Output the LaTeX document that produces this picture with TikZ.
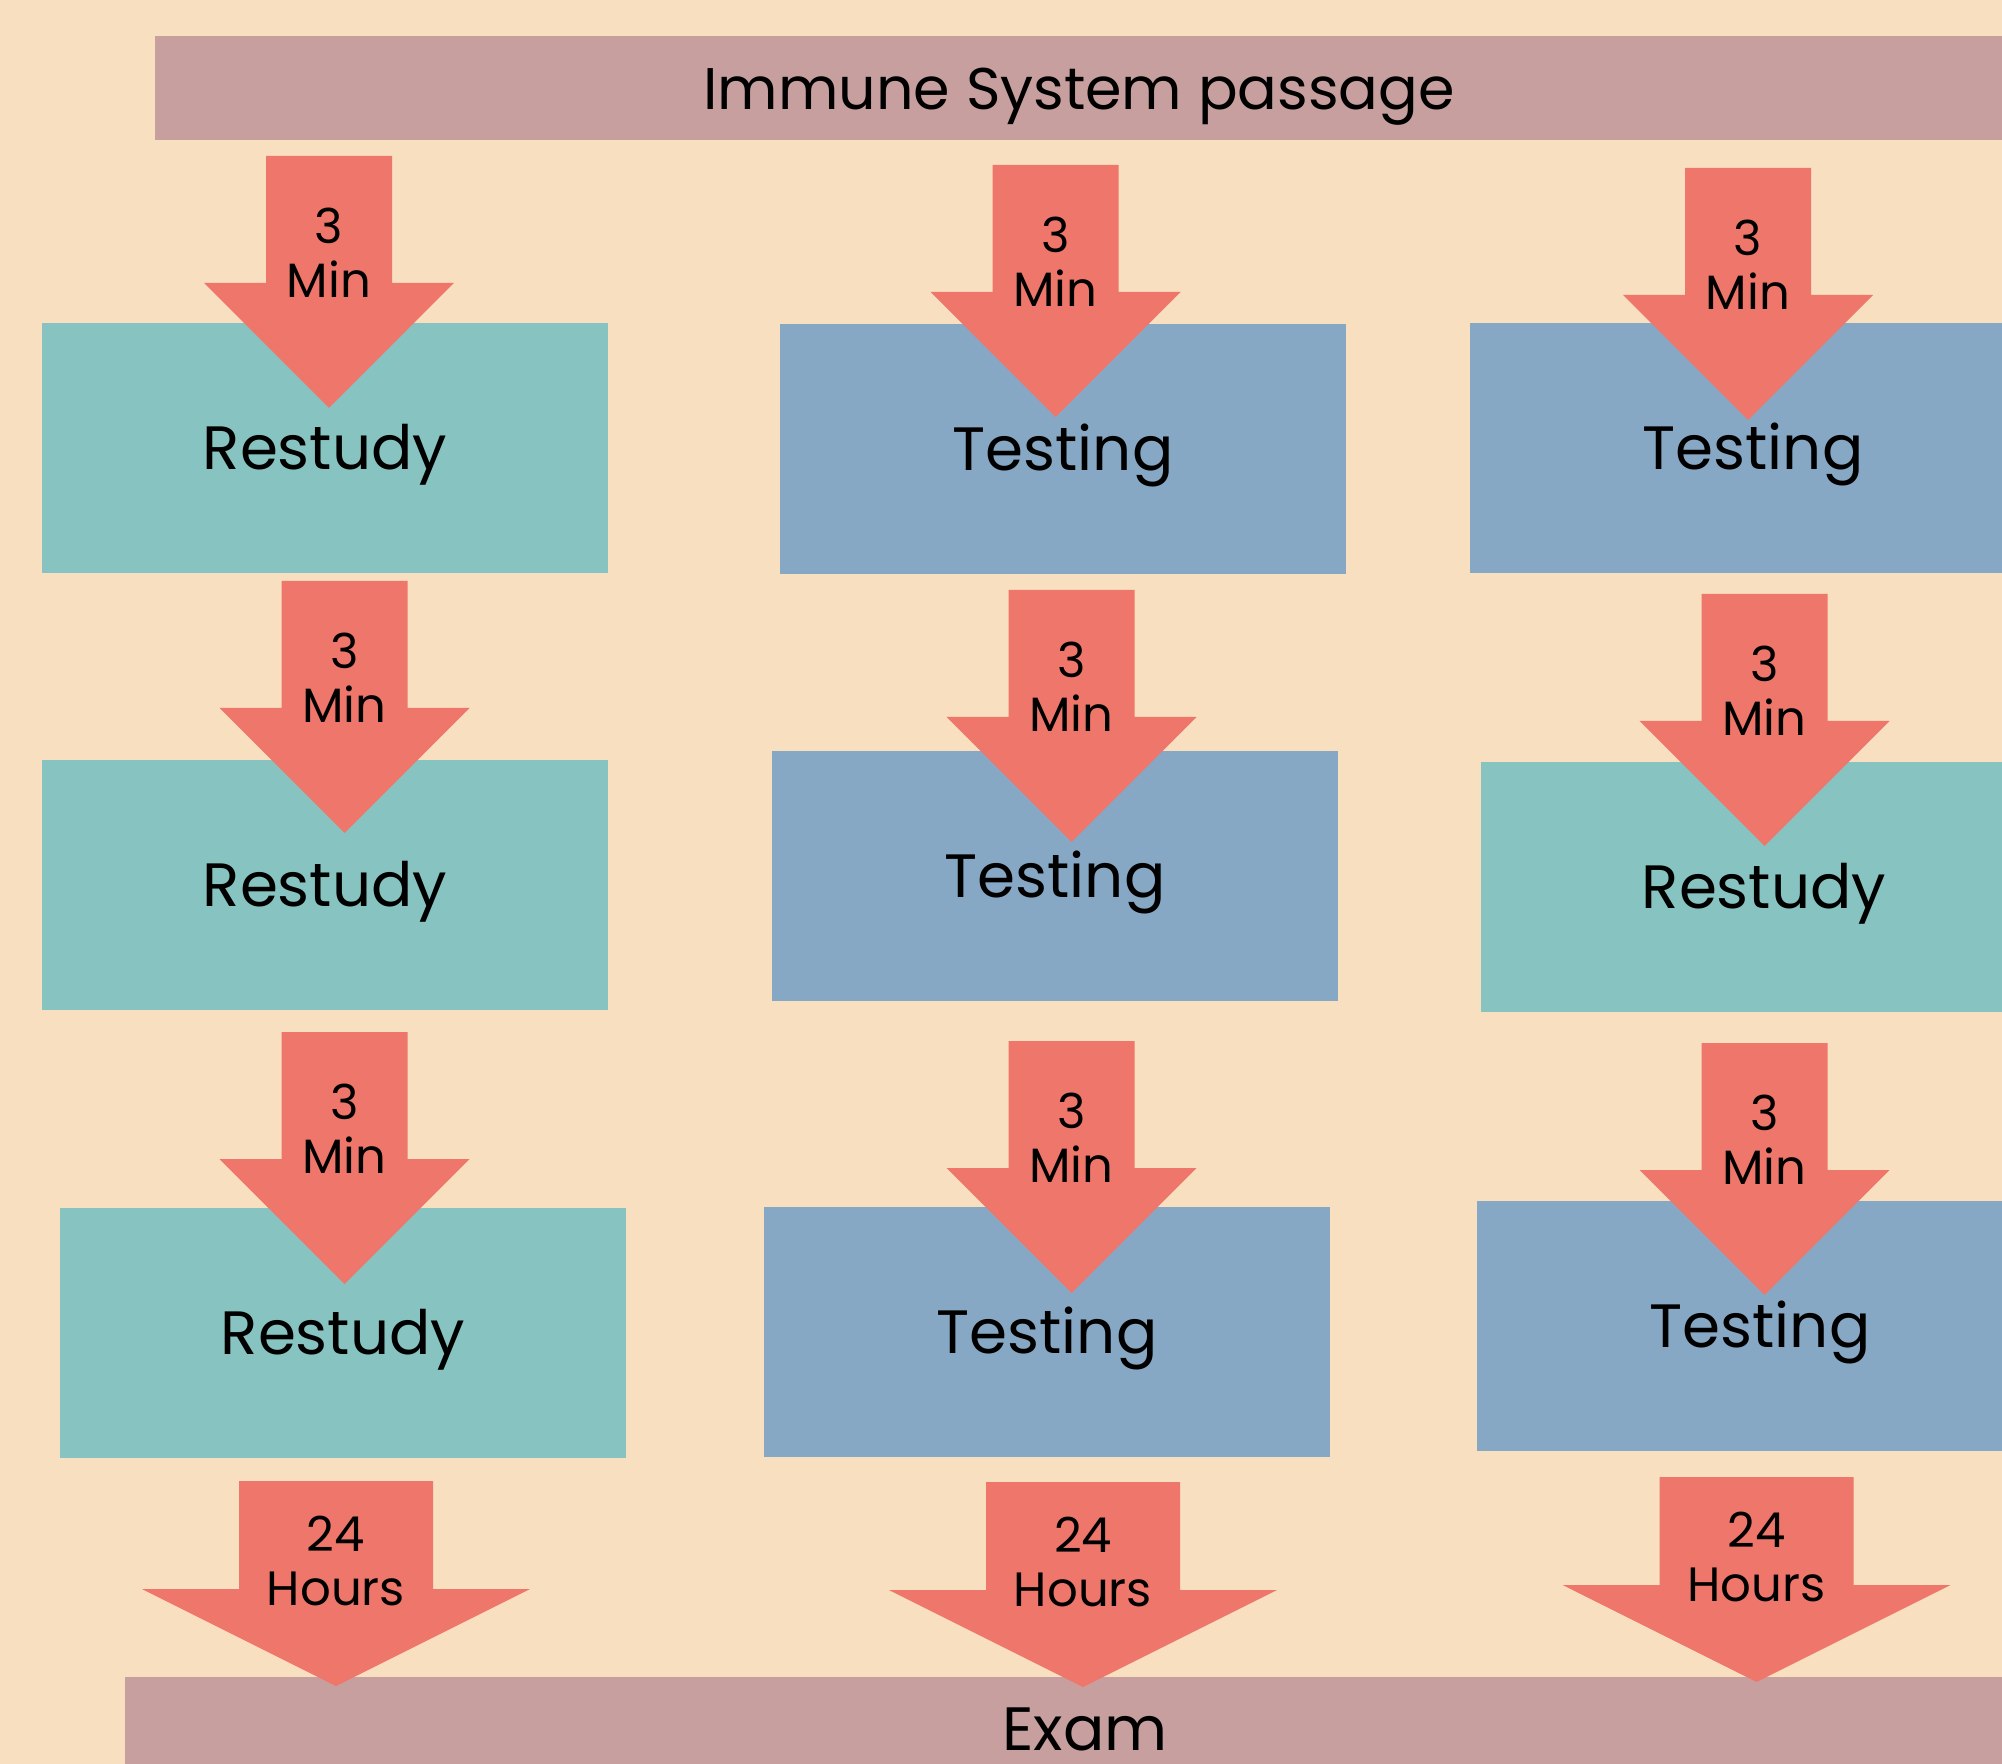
\documentclass[tikz,border=0pt]{standalone}
\usepackage{fontspec}
\setmainfont{Poppins}
\definecolor{bgcol}{HTML}{F8DFBF}
\definecolor{barcol}{HTML}{C89F9F}
\definecolor{restudycol}{HTML}{87C3C0}
\definecolor{testcol}{HTML}{86A8C4}
\definecolor{arrowcol}{HTML}{EF766A}
\tikzset{
  bigtext/.style={inner sep=0pt, text height=0.42cm, text depth=0pt, font=\fontsize{17.4}{20}\selectfont},
  bar/.style={bigtext, fill=barcol, minimum height=1.04cm, minimum width=#1},
  box/.style={bigtext, minimum width=5.66cm, minimum height=2.5cm},
  restudy/.style={box, fill=restudycol},
  testing/.style={box, fill=testcol},
  steplabel/.style={inner sep=0pt, align=center, font=\fontsize{13.7}{15.4}\selectfont}
}
\begin{document}
\begin{tikzpicture}[x=0.01cm, y=-0.01cm]
\useasboundingbox (0,0) rectangle (2002,1764);
\clip (0,0) rectangle (2002,1764);
\fill[bgcol] (0,0) rectangle (2002,1764);
\node[bar=18.46cm, font=\fontsize{16.7}{20}\selectfont] (passage) at (1079,88) {Immune System passage};
\node[bar=19.18cm, minimum height=0.87cm, text height=0.59cm] (exam) at (1085,1720.5) {Exam};
% boxes
\node[restudy] (r1) at (325,448) {Restudy};
\node[restudy] (r2) at (325,885) {Restudy};
\node[restudy] (r3) at (343,1333) {Restudy};
\node[testing] (t1) at (1063,449) {Testing};
\node[testing] (t2) at (1055,876) {Testing};
\node[testing] (t3) at (1047,1332) {Testing};
\node[testing] (c1) at (1753,448) {Testing};
\node[restudy] (c2) at (1764,887) {Restudy};
\node[testing] (c3) at (1760,1326) {Testing};
% 3 min arrows
\foreach \cx/\ty/\nm in {329/156/a1, 344.5/581/a2, 344.5/1032/a3,
    1055.5/165/b1, 1071.5/590/b2, 1071.5/1041/b3,
    1748/168/c1, 1764.5/594/c2, 1764.5/1043/c3}{
  \fill[arrowcol] (\cx-63,\ty) -- (\cx+63,\ty) -- (\cx+63,\ty+127) -- (\cx+125,\ty+127)
    -- (\cx,\ty+252) -- (\cx-125,\ty+127) -- (\cx-63,\ty+127) -- cycle;
  \node[steplabel] (min\nm) at (\cx,\ty+97) {3\\Min};
}
% 24 hours arrows
\foreach \cx/\ty/\nm in {336/1481/h1, 1083/1482/h2, 1756.5/1477/h3}{
  \fill[arrowcol] (\cx-97,\ty) -- (\cx+97,\ty) -- (\cx+97,\ty+108) -- (\cx+194,\ty+108)
    -- (\cx,\ty+205) -- (\cx-194,\ty+108) -- (\cx-97,\ty+108) -- cycle;
  \node[steplabel] (hours\nm) at (\cx,\ty+80) {24\\Hours};
}
\end{tikzpicture}
\end{document}
